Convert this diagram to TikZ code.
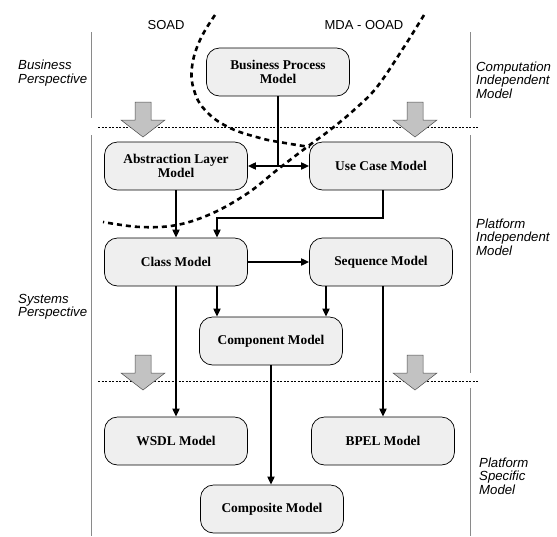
\documentclass[tikz,border=0pt]{standalone}
\usepackage{fontspec}
\setmainfont{Liberation Serif}
\setsansfont{Liberation Sans}
\usetikzlibrary{arrows.meta}
\definecolor{boxfill}{HTML}{EFEFEF}
\definecolor{bigarrow}{HTML}{C2C2C2}
\definecolor{sepline}{HTML}{8A8A8A}
\begin{document}
\begin{tikzpicture}[x=1pt,y=-1pt,
  model/.style={draw=black,line width=0.7pt,fill=boxfill,rounded corners=13pt,
    minimum width=143pt,minimum height=48pt,inner sep=2pt,align=center,
    font=\fontsize{13.4}{14.2}\selectfont\bfseries},
  lbl/.style={font=\sffamily\itshape\fontsize{13.2}{13.4}\selectfont,align=left,anchor=west,inner sep=0pt},
  hdr/.style={font=\sffamily\fontsize{13}{14}\selectfont,inner sep=0pt},
  arr/.style={line width=1.7pt,-{Triangle[length=8pt,width=7pt]}},
  conn/.style={line width=1.7pt},
  curve/.style={line width=2.6pt,dash pattern=on 5pt off 4pt},
  sep/.style={draw=sepline,line width=0.9pt},
  dotl/.style={line width=0.8pt,dash pattern=on 2pt off 1.5pt},
  blockarrow/.style={draw=black!70,line width=0.5pt,fill=bigarrow}
]
\useasboundingbox (0,0) rectangle (557,536);

% separators
\draw[sep] (91,32) -- (91,118);
\draw[sep] (91,135) -- (91,536);
\draw[sep] (470,32) -- (470,118);
\draw[sep] (470,135) -- (470,373);
\draw[sep] (470,388) -- (470,536);

% dotted lines
\draw[dotl] (98,127) -- (479,127);
\draw[dotl] (98,381) -- (479,381);

% block arrows
\foreach \cx/\ty in {143/102,415/102,143/355,415/355}{
  \draw[blockarrow] (\cx-8,\ty) -- (\cx+8,\ty) -- (\cx+8,\ty+18) -- (\cx+22,\ty+18)
    -- (\cx,\ty+35) -- (\cx-22,\ty+18) -- (\cx-8,\ty+18) -- cycle;
}

% headers
\node[hdr] (soad) at (166,25) {SOAD};
\node[hdr] (mda) at (364,25) {MDA - OOAD};
\node[lbl] (bp) at (18,73) {Business\\Perspective};
\node[lbl] (sp) at (18,307) {Systems\\Perspective};
\node[lbl] (cim) at (476,80) {Computation\\Independent\\Model};
\node[lbl] (pim) at (476,237) {Platform\\Independent\\Model};
\node[lbl] (psm) at (479,476) {Platform\\Specific\\Model};

% nodes
\node[model] (bpm) at (278,72) {Business Process\\Model};
\node[model] (alm) at (176,166) {Abstraction Layer\\Model};
\node[model] (ucm) at (381,166) {Use Case Model};
\node[model] (cm) at (176,262) {Class Model};
\node[model] (sm) at (381,262) {Sequence Model};
\node[model] (compm) at (271,341) {Component Model};
\node[model] (wsdl) at (176,441) {WSDL Model};
\node[model] (bpel) at (383,441) {BPEL Model};
\node[model] (compos) at (272,509) {Composite Model};

% connectors
\coordinate (j) at (bpm.south |- alm.east);
\draw[conn] (bpm.south) -- (j);
\draw[arr] (j) -- (alm.east);
\draw[arr] (j) -- (ucm.west);
\draw[arr] (alm.south) -- (cm.north);
\coordinate (c1) at (217,218);
\coordinate (ucb) at (383,190);
\draw[arr] (ucb) |- (c1) -- (c1 |- cm.north);
\draw[arr] (cm.east) -- (sm.west);
\draw[arr] (c1 |- cm.south) -- (c1 |- compm.north);
\coordinate (sb) at (326,286);
\draw[arr] (sb) -- (sb |- compm.north);
\draw[arr] (cm.south) -- (wsdl.north);
\coordinate (sb2) at (383,286);
\draw[arr] (sb2) -- (sb2 |- bpel.north);
\draw[arr] (compm.south) -- (compm.south |- compos.north);

% dashed curves
\draw[curve] plot[smooth,tension=0.7] coordinates {(215,15) (200,40) (192,67) (194,90) (205,110) (228,127) (260,138) (285,143) (310,147)};
\draw[curve] plot[smooth,tension=0.6] coordinates {(424,15) (404,47) (377,87) (354,110) (330,130) (307,147) (277,170) (248,193) (213,213) (177,225) (140,227) (103,222)};
\end{tikzpicture}
\end{document}
